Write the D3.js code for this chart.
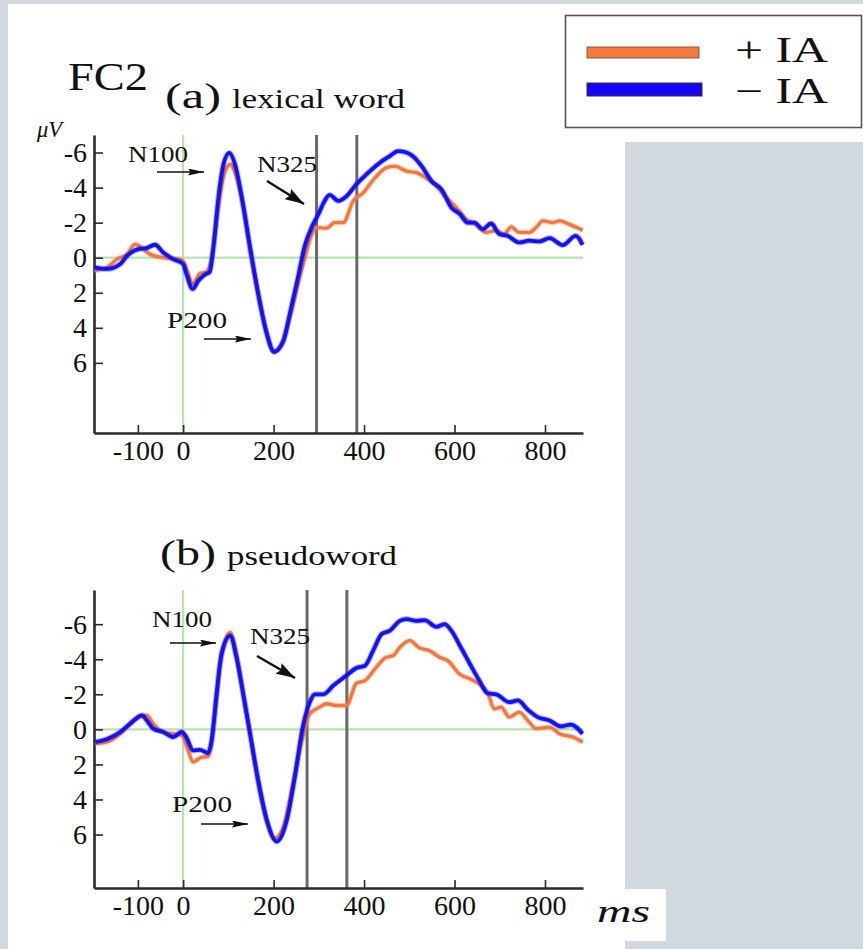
<!DOCTYPE html>
<html>
<head>
<meta charset="utf-8">
<script src="https://cdn.jsdelivr.net/npm/d3@7"></script>
<style>
  html, body { margin: 0; padding: 0; background: #cfd9de; }
  svg { display: block; }
  text { font-family: "Liberation Serif", "Times New Roman", serif; fill: #111; }
</style>
</head>
<body>
<svg id="chart" width="863" height="949"></svg>
<script>
// ---------------- DATA ----------------
const seriesNames = ["+ IA", "\u2212 IA"];
const xTicks = [-100, 0, 200, 400, 600, 800];
const yTicks = [-6, -4, -2, 0, 2, 4, 6];
const componentLabels = ["N100", "N325", "P200"];

// (a) lexical word
const lexPlusT = [-196,-168,-146,-124,-106,-92,-73,-44,-7,0,11,21,37,52,63,78,89,104,118,133,148,166,185,201,221,236,254,269,284,295,317,335,354,376,398,424,449,468,494,516,537,560,582,604,626,648,670,692,710,725,743,765,780,795,817,832,854,883];
const lexPlusV = [0.74,0.55,0.08,-0.2,-0.78,-0.57,-0.2,0,0.1,0.2,0.9,1.5,0.9,0.8,0,-2.9,-4.6,-5.33,-4.6,-2.9,-0.4,2.06,4.3,5.3,4.7,3.4,1.5,0,-1.3,-1.72,-1.69,-2.0,-2.0,-3.24,-3.7,-4.56,-5.13,-5.23,-4.94,-4.85,-4.56,-4.09,-3.43,-2.86,-2.2,-1.9,-1.44,-1.55,-1.35,-1.76,-1.44,-1.44,-1.72,-2.1,-2.0,-2.1,-1.9,-1.57];
const lexMinusT = [-196,-168,-139,-124,-99,-81,-62,-44,-22,0,7,21,34,48,59,67,78,89,102,115,130,148,166,185,201,221,236,254,269,284,299,312,324,343,361,383,405,435,457,475,494,512,530,549,571,593,612,629,644,662,681,699,717,743,765,788,810,839,868,883];
const lexMinusV = [0.55,0.64,0.36,-0.1,-0.49,-0.55,-0.74,-0.3,0.08,0.36,0.9,1.78,1.3,0.97,0.8,-0.59,-3.4,-5.3,-5.98,-5.3,-3.4,-0.6,2.06,4.34,5.38,4.8,3.2,1.12,-0.68,-1.72,-2.48,-3.2,-3.58,-3.24,-3.5,-4.19,-4.75,-5.42,-5.8,-6.08,-6.0,-5.7,-5.13,-4.38,-3.9,-2.86,-2.48,-2.0,-2.0,-1.63,-1.95,-1.35,-1.25,-0.87,-0.97,-0.93,-1.12,-0.72,-1.25,-0.73];
const lexWindow = [295, 384];

// (b) pseudoword
const pseuPlusT = [-194,-168,-139,-110,-80,-66,-44,-3,11,22,40,55,70,81,104,118,133,148,166,185,203,221,243,262,280,302,317,339,361,383,402,424,449,464,479,501,523,545,567,585,611,634,659,673,688,703,721,743,765,780,810,832,861,883];
const pseuPlusV = [0.81,0.72,0.25,-0.51,-0.8,-0.32,0.15,0.34,1.2,1.86,1.6,1.55,-0.8,-3.6,-5.53,-4.3,-2.0,0.25,3.1,5.27,6.2,5.6,3.1,0.72,-0.89,-1.27,-1.46,-1.36,-1.36,-2.63,-2.78,-3.45,-4.11,-4.2,-4.68,-5.06,-4.64,-4.49,-4.11,-3.92,-3.16,-2.88,-2.5,-2.1,-1.17,-1.27,-0.7,-0.98,-0.41,-0.04,-0.13,0.25,0.44,0.72];
const pseuMinusT = [-194,-168,-139,-117,-91,-80,-66,-44,-22,-3,7,22,37,55,63,74,85,104,118,133,148,166,185,207,229,247,264,280,291,310,332,361,383,402,420,439,457,479,494,516,534,560,578,593,612,634,655,673,692,721,740,762,784,810,835,857,883];
const pseuMinusV = [0.72,0.55,0.15,-0.32,-0.8,-0.5,-0.04,0.15,0.44,0.15,0.44,1.2,1.17,1.35,0.65,-2.0,-4.3,-5.34,-4.1,-2.0,0.25,2.9,5.17,6.4,5.2,2.7,-0.06,-1.55,-2.0,-2.0,-2.5,-3.07,-3.5,-3.63,-4.49,-5.44,-5.63,-6.19,-6.29,-6.19,-6.23,-5.85,-6.0,-5.63,-4.77,-3.73,-2.78,-2.06,-2.0,-1.55,-1.65,-1.12,-0.7,-0.51,-0.17,-0.27,0.25];
const pseuWindow = [274, 362];

// ---------------- DRAWING ----------------
const svg = d3.select("#chart");
const W = 863, H = 949;
const orange = "#f4773d", blue = "#1212f5";

svg.append("rect").attr("width", W).attr("height", H).attr("fill", "#cfd9de");
svg.append("path")
  .attr("d", "M8,4 H863 V142 H625 V889 H666 V941 H625 V949 H8 Z")
  .attr("fill", "#ffffff");

const defs = svg.append("defs");
function marker(id, len, wid) {
  defs.append("marker").attr("id", id)
    .attr("viewBox", `0 0 ${len} ${wid}`)
    .attr("refX", len).attr("refY", wid / 2)
    .attr("markerWidth", len).attr("markerHeight", wid)
    .attr("markerUnits", "userSpaceOnUse")
    .attr("orient", "auto")
    .append("path").attr("d", `M0,0 L${len},${wid/2} L0,${wid} L${len*0.15},${wid/2} Z`).attr("fill", "#111");
}
marker("arrowThin", 16, 7);
marker("arrowBold", 19, 12);

// Legend
const lg = svg.append("g");
lg.append("rect").attr("x", 565.5).attr("y", 15.5).attr("width", 296).attr("height", 112)
  .attr("fill", "#fff").attr("stroke", "#555").attr("stroke-width", 1.6);
lg.append("rect").attr("x", 587).attr("y", 47).attr("width", 112).attr("height", 11)
  .attr("fill", "#f47a3c").attr("stroke", "#8a5a40").attr("stroke-width", 1);
lg.append("rect").attr("x", 587).attr("y", 83).attr("width", 115).attr("height", 13)
  .attr("fill", "#1600ff").attr("stroke", "#333").attr("stroke-width", 1);
lg.append("text").attr("x", 735).attr("y", 62).attr("font-size", 35)
  .attr("textLength", 93).attr("lengthAdjust", "spacingAndGlyphs").text(seriesNames[0]);
lg.append("text").attr("x", 735).attr("y", 103).attr("font-size", 35)
  .attr("textLength", 93).attr("lengthAdjust", "spacingAndGlyphs").text(seriesNames[1]);

// Titles
svg.append("text").attr("x", 68).attr("y", 90).attr("font-size", 41)
  .attr("textLength", 80).attr("lengthAdjust", "spacingAndGlyphs").text("FC2");

function drawPanel(cfg) {
  const x = d3.scaleLinear().domain([-197, 884]).range([94, 583]);
  const y = d3.scaleLinear().domain(cfg.yDomain).range([cfg.top, cfg.bottom]);
  const g = svg.append("g");

  // title
  g.append("text").attr("x", cfg.titleX).attr("y", cfg.titleY).attr("font-size", 35)
    .attr("textLength", 56).attr("lengthAdjust", "spacingAndGlyphs").text(cfg.tag);
  g.append("text").attr("x", cfg.titleX + 67).attr("y", cfg.titleY).attr("font-size", 28)
    .attr("textLength", cfg.nameLen).attr("lengthAdjust", "spacingAndGlyphs").text(cfg.name);

  // green reference lines
  g.append("line").attr("x1", x(0)).attr("x2", x(0)).attr("y1", cfg.top).attr("y2", cfg.bottom)
    .attr("stroke", "#b7e5b0").attr("stroke-width", 2.2);
  g.append("line").attr("x1", x.range()[0]).attr("x2", x.range()[1]).attr("y1", y(0)).attr("y2", y(0))
    .attr("stroke", "#b7e5b0").attr("stroke-width", 2.2);

  // window lines
  g.selectAll("line.win").data(cfg.window).enter().append("line").attr("class", "win")
    .attr("x1", d => x(d)).attr("x2", d => x(d)).attr("y1", cfg.top).attr("y2", cfg.bottom)
    .attr("stroke", "#6a6a6a").attr("stroke-width", 3);

  // axes
  const fmt = d => d < 0 ? "-" + Math.abs(d) : String(d);
  const ya = g.append("g").attr("transform", `translate(${x.range()[0]},0)`)
    .call(d3.axisLeft(y).tickValues(yTicks).tickFormat(fmt).tickSizeInner(-9).tickSizeOuter(0).tickPadding(7));
  const xa = g.append("g").attr("transform", `translate(0,${cfg.bottom})`)
    .call(d3.axisBottom(x).tickValues(xTicks).tickFormat(fmt).tickSizeInner(-8).tickSizeOuter(0).tickPadding(7));
  [ya, xa].forEach(a => {
    a.select(".domain").attr("stroke", "#2a2a2a").attr("stroke-width", 2.6);
    a.selectAll(".tick line").attr("stroke", "#2a2a2a").attr("stroke-width", 1.6);
    a.selectAll(".tick text").attr("font-size", 28).attr("fill", "#111");
  });

  // curves
  const line = d3.line().x(d => x(d[0])).y(d => y(d[1])).curve(d3.curveMonotoneX);
  const plus = cfg.plusT.map((t, i) => [t, cfg.plusV[i]]);
  const minus = cfg.minusT.map((t, i) => [t, cfg.minusV[i]]);
  [[plus, orange, 3.3], [minus, blue, 3.8]].forEach(([d, c, w]) => {
    g.append("path").datum(d).attr("d", line).attr("fill", "none")
      .attr("stroke", c).attr("stroke-opacity", 0.3).attr("stroke-width", w + 2.2).attr("stroke-linejoin", "round");
    g.append("path").datum(d).attr("d", line).attr("fill", "none")
      .attr("stroke", c).attr("stroke-width", w).attr("stroke-linejoin", "round");
  });

  // annotations
  cfg.ann.forEach((a, i) => {
    g.append("text").attr("x", a.tx).attr("y", a.ty).attr("font-size", 23)
      .attr("textLength", 60).attr("lengthAdjust", "spacingAndGlyphs").text(componentLabels[i]);
    g.append("line").attr("x1", a.x1).attr("y1", a.y1).attr("x2", a.x2).attr("y2", a.y2)
      .attr("stroke", "#111").attr("stroke-width", a.bold ? 2.4 : 1.3)
      .attr("marker-end", a.bold ? "url(#arrowBold)" : "url(#arrowThin)");
  });
}

drawPanel({
  tag: "(a)", name: "lexical word", nameLen: 173, titleX: 165, titleY: 108,
  yDomain: [-7, 10], top: 135, bottom: 433,
  plusT: lexPlusT, plusV: lexPlusV, minusT: lexMinusT, minusV: lexMinusV, window: lexWindow,
  ann: [
    {tx: 128, ty: 162, x1: 157, y1: 172, x2: 204, y2: 172},
    {tx: 257, ty: 172, x1: 267, y1: 181, x2: 304, y2: 204, bold: true},
    {tx: 167, ty: 328, x1: 204, y1: 339, x2: 251, y2: 339}
  ]
});

drawPanel({
  tag: "(b)", name: "pseudoword", nameLen: 170, titleX: 160, titleY: 565,
  yDomain: [-7.95, 9.05], top: 590, bottom: 888,
  plusT: pseuPlusT, plusV: pseuPlusV, minusT: pseuMinusT, minusV: pseuMinusV, window: pseuWindow,
  ann: [
    {tx: 152, ty: 627, x1: 170, y1: 643, x2: 216, y2: 643},
    {tx: 250, ty: 644, x1: 257, y1: 656, x2: 295, y2: 678, bold: true},
    {tx: 172, ty: 812, x1: 201, y1: 824, x2: 248, y2: 824}
  ]
});

// unit labels
svg.append("text").attr("x", 37).attr("y", 137).attr("font-size", 24).attr("font-style", "italic")
  .attr("textLength", 25).attr("lengthAdjust", "spacingAndGlyphs").text("\u03bcV");
svg.append("text").attr("x", 597).attr("y", 922).attr("font-size", 32).attr("font-style", "italic")
  .attr("textLength", 53).attr("lengthAdjust", "spacingAndGlyphs").text("ms");
</script>
</body>
</html>
